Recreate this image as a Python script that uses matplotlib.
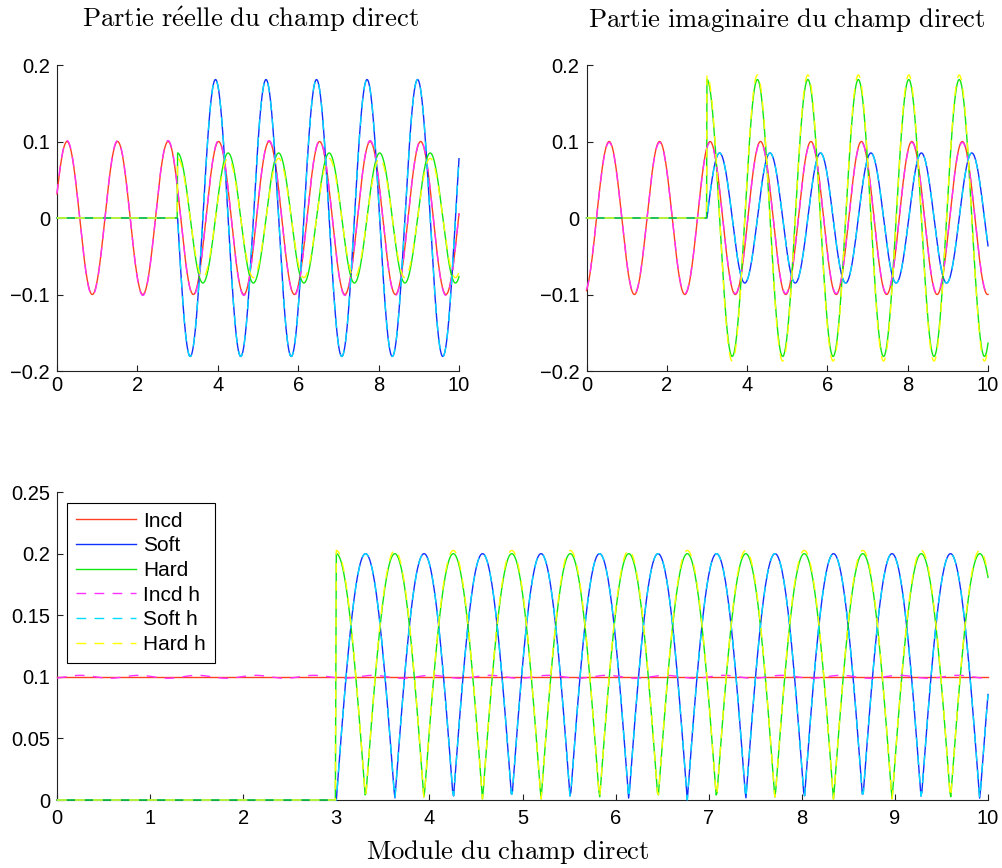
import numpy as np
import matplotlib
matplotlib.use('Agg')
import matplotlib.pyplot as plt

# ---------------- data ----------------
series_names = ['Incd', 'Soft', 'Hard', 'Incd h', 'Soft h', 'Hard h']
x_start, x_end, x_step = 0.0, 10.0, 0.01
wave_number = 5.0          # crest spacing ~1.257
interface_x = 3.0          # Soft / Hard fields start at x = 3
inc_amplitude = 0.1
inc_phase = 1.25           # real part of incident crest at x ~ 0.25
inc_h_ripple = 0.0012      # small ripple of |Incd h| around 0.1
# complex coefficients (real, imag): Soft ~ sin(k(x-3)), Hard ~ cos(k(x-3))
soft_coef = (-0.181, 0.085)
hard_coef = (0.085, 0.181)
soft_h_coef = (-0.181, 0.085)
hard_h_coef = (0.078, 0.187)

top_xticks = [0, 2, 4, 6, 8, 10]
top_yticks = [-0.2, -0.1, 0, 0.1, 0.2]
top_yticklabels = ['\u22120.2', '\u22120.1', '0', '0.1', '0.2']
mod_xticks = [0, 1, 2, 3, 4, 5, 6, 7, 8, 9, 10]
mod_yticks = [0, 0.05, 0.1, 0.15, 0.2, 0.25]
mod_yticklabels = ['0', '0.05', '0.1', '0.15', '0.2', '0.25']

title_real = r'$\mathrm{Partie\ r\acute{e}elle\ du\ champ\ direct}$'
title_imag = r'$\mathrm{Partie\ imaginaire\ du\ champ\ direct}$'
label_mod = r'$\mathrm{Module\ du\ champ\ direct}$'

# ---------------- styles ----------------
colors = ['#ff4020', '#1030ff', '#10e810', '#ff30ff', '#00dcff', '#ffff00']
styles = ['-', '-', '-', '--', '--', '--']

plt.rcParams['font.family'] = ['Liberation Sans', 'DejaVu Sans']
plt.rcParams['mathtext.fontset'] = 'cm'

# ---------------- fields ----------------
n = int(round((x_end - x_start) / x_step)) + 1
x = np.linspace(x_start, x_end, n)
phase = wave_number * x - inc_phase
incd = inc_amplitude * np.exp(1j * phase)
incd_h = incd + inc_h_ripple * np.exp(-1j * phase)
beyond = x >= interface_x - 1e-9
s = np.sin(wave_number * (x - interface_x))
c = np.cos(wave_number * (x - interface_x))
soft = np.where(beyond, complex(*soft_coef) * s, 0)
hard = np.where(beyond, complex(*hard_coef) * c, 0)
soft_h = np.where(beyond, complex(*soft_h_coef) * s, 0)
hard_h = np.where(beyond, complex(*hard_h_coef) * c, 0)
fields = [incd, soft, hard, incd_h, soft_h, hard_h]

fig = plt.figure(figsize=(10.02, 8.68), dpi=100)
W, H = 1002.0, 868.0


def add_axes(l, t, r, b):
    return fig.add_axes([l / W, 1 - b / H, (r - l) / W, (b - t) / H])


ax1 = add_axes(57, 65, 459, 371)
ax2 = add_axes(586.5, 65, 988, 371)
ax3 = add_axes(57, 492, 988, 800)


def style(ax, xpad):
    for sp in ['top', 'right']:
        ax.spines[sp].set_visible(False)
    for sp in ['left', 'bottom']:
        ax.spines[sp].set_linewidth(0.8)
        ax.spines[sp].set_color('#222222')
    ax.tick_params(direction='in', length=4, width=0.8, labelsize=14.5,
                   color='#222222')
    ax.tick_params(axis='y', pad=5)
    ax.tick_params(axis='x', pad=xpad)


lines = []
for ax, part in [(ax1, np.real), (ax2, np.imag), (ax3, np.abs)]:
    for name, f, col, ls in zip(series_names, fields, colors, styles):
        ln, = ax.plot(x, part(f), color=col, linestyle=ls, linewidth=1.0,
                      label=name, clip_on=False, zorder=3)
        if ls == '--':
            ln.set_dashes((7, 6))
        if ax is ax3:
            lines.append(ln)

for ax in (ax1, ax2):
    ax.set_xlim(0, 10)
    ax.set_ylim(-0.2, 0.2)
    ax.set_xticks(top_xticks)
    ax.set_xticklabels([str(t) for t in top_xticks])
    ax.set_yticks(top_yticks)
    ax.set_yticklabels(top_yticklabels)
    style(ax, 3.5)

ax3.set_xlim(0, 10)
ax3.set_ylim(0, 0.25)
ax3.set_xticks(mod_xticks)
ax3.set_xticklabels([str(t) for t in mod_xticks])
ax3.set_yticks(mod_yticks)
ax3.set_yticklabels(mod_yticklabels)
style(ax3, 6.5)

leg = ax3.legend(handles=lines, loc='upper left',
                 bbox_to_anchor=(10 / 931, 1 - 11 / 308), borderaxespad=0,
                 fontsize=15, fancybox=False, edgecolor='black', framealpha=1,
                 handlelength=2.9, handletextpad=0.34, labelspacing=0.27,
                 borderpad=0.42)
leg.get_frame().set_linewidth(0.8)
leg.set_zorder(5)

fig.text(250 / W, 1 - 27 / H, title_real, ha='center', va='baseline', fontsize=19.2)
fig.text(786.5 / W, 1 - 27 / H, title_imag, ha='center', va='baseline', fontsize=19.2)
fig.text(508 / W, 1 - 859 / H, label_mod, ha='center', va='baseline', fontsize=19.2)

fig.savefig('out.png', dpi=100)
